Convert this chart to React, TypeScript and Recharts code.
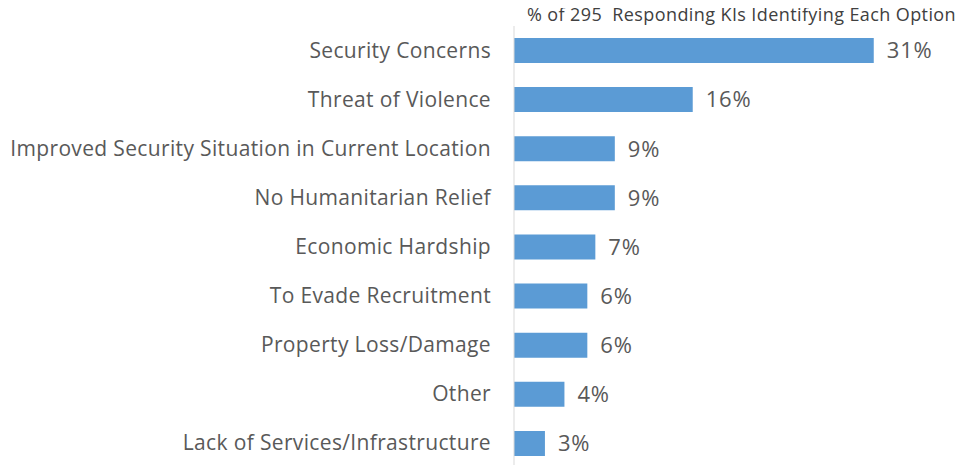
import React from 'react';
import { BarChart, Bar, XAxis, YAxis, LabelList } from 'recharts';

const categories = [
    'Security Concerns',
    'Threat of Violence',
    'Improved Security Situation in Current Location',
    'No Humanitarian Relief',
    'Economic Hardship',
    'To Evade Recruitment',
    'Property Loss/Damage',
    'Other',
    'Lack of Services/Infrastructure',
];
const shares = [31.4, 15.6, 8.8, 8.8, 7.1, 6.4, 6.4, 4.4, 2.7];
const title = '% of 295  Responding KIs Identifying Each Option';

const data = categories.map((name, i) => ({ name, value: shares[i] }));

const FONT = '"Open Sans", Lato, sans-serif';

const CategoryTick = (props: any) => {
    const { x, y, payload } = props;
    return (
        <text
            x={x - 15}
            y={y}
            dy={7}
            textAnchor="end"
            fontSize={21}
            letterSpacing={0.35}
            fontFamily={FONT}
            fill="#595959"
        >
            {payload.value}
        </text>
    );
};

const App: React.FC = () => {
    return (
        <div style={{ position: 'relative', width: 963, height: 460 }}>
            <div
                style={{
                    position: 'absolute',
                    left: 519,
                    top: -6,
                    fontSize: 18,
                    letterSpacing: 0.4,
                    fontFamily: FONT,
                    color: '#404040',
                    whiteSpace: 'pre',
                }}
            >
                {title}
            </div>
            <BarChart
                width={963}
                height={460}
                data={data}
                layout="vertical"
                margin={{ top: 18, right: 56, bottom: 0, left: 0 }}
            >
                <XAxis type="number" domain={[0, 35]} hide />
                <YAxis
                    type="category"
                    dataKey="name"
                    width={506}
                    axisLine={{ stroke: '#d9d9d9' }}
                    tickLine={false}
                    tick={<CategoryTick />}
                    interval={0}
                />
                <Bar dataKey="value" fill="#5B9BD5" barSize={25} isAnimationActive={false}>
                    <LabelList
                        dataKey="value"
                        position="right"
                        offset={13}
                        formatter={(v: any) => `${Math.round(Number(v))}%`}
                        style={{ fontSize: 22, letterSpacing: 0.8, fontFamily: FONT, fill: '#595959' }}
                    />
                </Bar>
            </BarChart>
        </div>
    );
};

export default App;
